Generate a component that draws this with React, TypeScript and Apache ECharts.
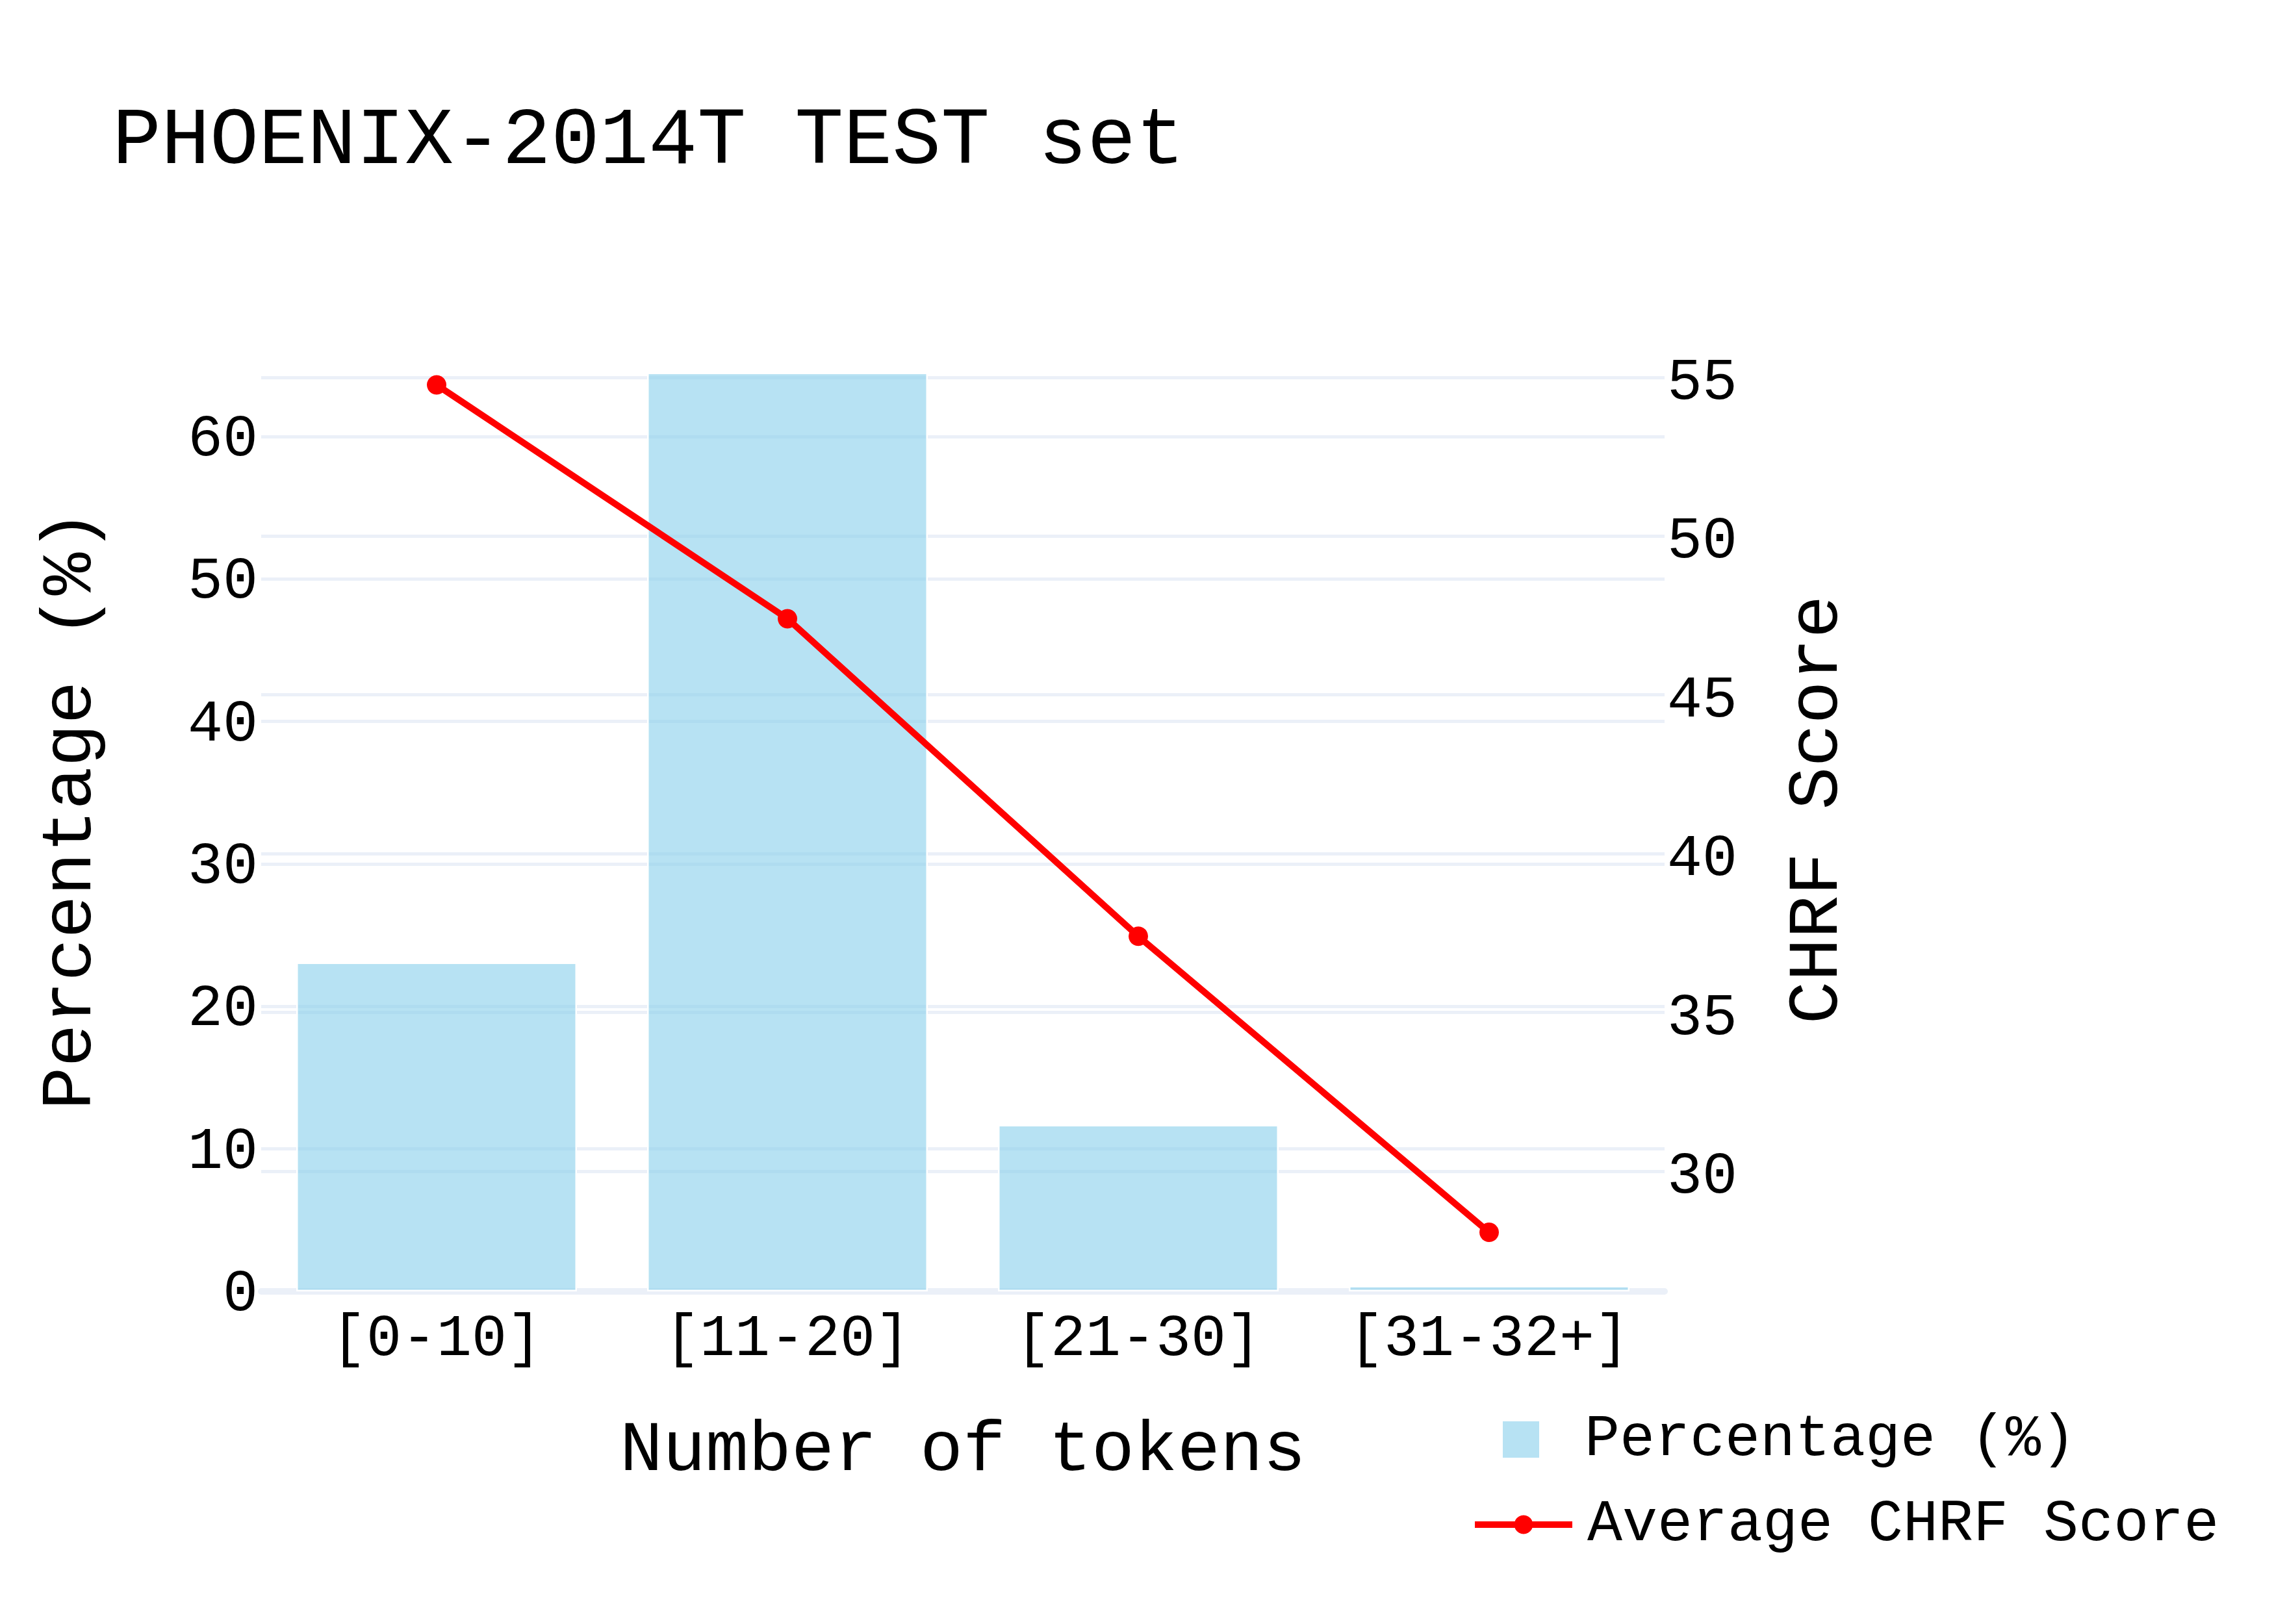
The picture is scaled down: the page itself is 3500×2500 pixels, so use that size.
import React, { useEffect, useRef } from "react";
import * as echarts from "echarts";

const categories = ["[0-10]", "[11-20]", "[21-30]", "[31-32+]"];
const percentageValues = [23.1, 64.5, 11.7, 0.4];
const chrfValues = [54.76, 47.4, 37.4, 28.08];
const titleText = "PHOENIX-2014T TEST set";
const barName = "Percentage (%)";
const lineName = "Average CHRF Score";

const FONT = "'Liberation Mono', 'DejaVu Sans Mono', monospace";
const GRID = "#EBF0F8";

export default function App() {
  const ref = useRef<HTMLDivElement>(null);
  useEffect(() => {
    if (!ref.current) return;
    const chart = echarts.init(ref.current, undefined, { renderer: "svg" });
    chart.setOption({
      animation: false,
      backgroundColor: "#ffffff",
      textStyle: { fontFamily: FONT, color: "#000" },
      title: {
        text: titleText,
        left: 173,
        top: 155,
        padding: 0,
        textStyle: { fontFamily: FONT, fontSize: 125, fontWeight: "normal", color: "#000" },
      },
      legend: [
        {
          orient: "vertical",
          left: 2311,
          top: 2171,
          padding: 0,
          itemWidth: 58,
          itemHeight: 58,
          icon: "rect",
          data: [{ name: barName }],
          textStyle: { fontFamily: FONT, fontSize: 90, color: "#000", padding: [36, 0, 0, 64] },
        },
        {
          orient: "vertical",
          left: 2265,
          top: 2302,
          padding: 0,
          itemWidth: 150,
          itemHeight: 36,
          data: [{ name: lineName }],
          lineStyle: { width: 10, color: "#FF0000" },
          textStyle: { fontFamily: FONT, fontSize: 90, color: "#000", padding: [30, 0, 0, 18] },
        },
      ],
      grid: { left: 402, right: 938, top: 505, bottom: 512, containLabel: false },
      xAxis: {
        type: "category",
        data: categories,
        name: "Number of tokens",
        nameLocation: "middle",
        nameGap: 190,
        nameTextStyle: { fontFamily: FONT, fontSize: 110, color: "#000" },
        axisTick: { show: false },
        axisLine: { show: true, lineStyle: { color: GRID, width: 10 } },
        axisLabel: { fontFamily: FONT, fontSize: 90, color: "#000", margin: 29, interval: 0 },
        splitLine: { show: false },
      },
      yAxis: [
        {
          type: "value",
          min: 0,
          max: 67.62,
          interval: 10,
          position: "left",
          name: "Percentage (%)",
          nameLocation: "middle",
          nameGap: 238,
          nameTextStyle: { fontFamily: FONT, fontSize: 110, color: "#000" },
          axisLine: { show: false },
          axisTick: { show: false },
          axisLabel: {
            fontFamily: FONT,
            fontSize: 90,
            color: "#000",
            margin: 5,
            showMaxLabel: false,
            verticalAlign: "top",
            lineHeight: 10,
          },
          splitLine: { show: true, showMinLine: false, showMaxLine: false, lineStyle: { color: GRID, width: 5 } },
        },
        {
          type: "value",
          min: 26.22,
          max: 56.55,
          splitNumber: 6,
          position: "right",
          name: "CHRF Score",
          nameLocation: "middle",
          nameGap: 180,
          nameTextStyle: { fontFamily: FONT, fontSize: 110, color: "#000" },
          axisLine: { show: false },
          axisTick: { show: false },
          axisLabel: {
            fontFamily: FONT,
            fontSize: 90,
            color: "#000",
            margin: 4,
            showMinLabel: false,
            showMaxLabel: false,
            verticalAlign: "top",
            lineHeight: 18,
          },
          splitLine: { show: true, showMinLine: false, showMaxLine: false, lineStyle: { color: GRID, width: 5 } },
        },
      ],
      series: [
        {
          name: barName,
          type: "bar",
          yAxisIndex: 0,
          data: percentageValues,
          barCategoryGap: "20%",
          itemStyle: { color: "rgba(135,206,235,0.6)", borderColor: "#ffffff", borderWidth: 2.5 },
          z: 2,
        },
        {
          name: lineName,
          type: "line",
          yAxisIndex: 1,
          data: chrfValues,
          symbol: "circle",
          symbolSize: 30,
          lineStyle: { color: "#FF0000", width: 10 },
          itemStyle: { color: "#FF0000" },
          z: 3,
        },
      ],
    });
    return () => chart.dispose();
  }, []);
  return (
    <div
      ref={ref}
      style={{ position: "absolute", left: 0, top: 0, width: 3500, height: 2500 }}
    />
  );
}
